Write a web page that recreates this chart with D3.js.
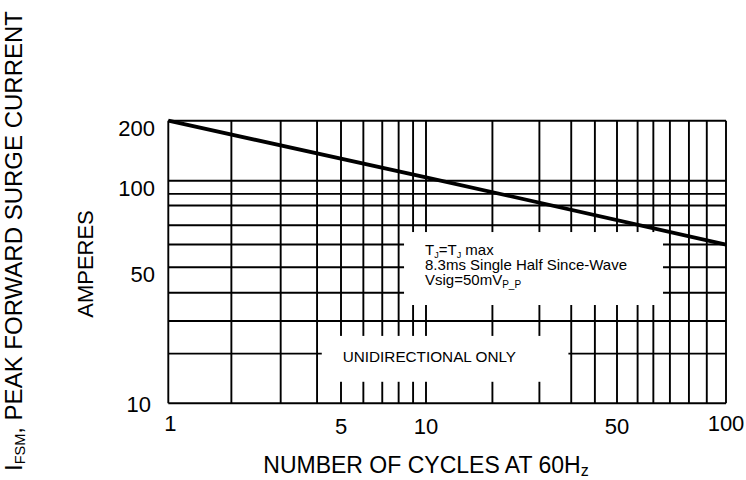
<!DOCTYPE html>
<html>
<head>
<meta charset="utf-8">
<script src="https://cdn.jsdelivr.net/npm/d3@7"></script>
<style>
  body { margin: 0; background: #fff; }
  text { font-family: "Liberation Sans", Arial, sans-serif; fill: #000; }
</style>
</head>
<body>
<div class="div_chart"></div>
<script>
// Surge current curve
const cycles = [1, 10, 100]
const amps = [200, 104, 60]

// tick labels
const xTicks = [1, 5, 10, 50, 100]
const yTicks = [10, 50, 100, 200]

// grid lines as drawn on the sheet (not a clean log grid)
const gridX = [1, 1.8, 2.85, 4, 5, 6, 7, 8, 9, 10, 17.5, 26, 34, 41.5, 50, 57, 63, 70, 79, 88.5, 100]
const gridY = [10, 18, 26.5, 37, 50, 60, 70, 82, 90, 100, 200]

// note boxes, in cycles / amperes
const noteBox = {x0: 8.36, x1: 67, y0: 32, y1: 66.3}
const uniBox = {x0: 4.18, x1: 33.2, y0: 12.9, y1: 22.2}

const width = 746, height = 480

const svg = d3.select(".div_chart")
  .append("svg")
    .attr("width", width)
    .attr("height", height)

// piecewise log scales, knots at the labelled ticks
const x = d3.scaleLog()
  .domain([1, 5, 10, 50, 100])
  .range([168.3, 341, 426, 617, 726])

const y = d3.scaleLog()
  .domain([10, 50, 100, 200])
  .range([403.3, 267.3, 180.7, 120.7])

const grid = svg.append("g").attr("class", "grid")

grid.selectAll("line.v")
  .data(gridX)
  .enter().append("line")
  .attr("class", "v")
  .attr("x1", d => x(d)).attr("x2", d => x(d))
  .attr("y1", y(200)).attr("y2", y(10))
  .style("stroke", "#000")
  .style("stroke-width", 1.9)

grid.selectAll("line.h")
  .data(gridY)
  .enter().append("line")
  .attr("class", "h")
  .attr("x1", x(1)).attr("x2", x(100))
  .attr("y1", d => y(d)).attr("y2", d => y(d))
  .style("stroke", "#000")
  .style("stroke-width", 1.9)

// white boxes cut the grid behind the notes
for (let b of [noteBox, uniBox]) {
  svg.append("rect")
    .attr("x", x(b.x0))
    .attr("y", y(b.y1))
    .attr("width", x(b.x1) - x(b.x0))
    .attr("height", y(b.y0) - y(b.y1))
    .style("fill", "#fff")
}

// the curve
const line = d3.line()
  .x(d => x(d[0]))
  .y(d => y(d[1]))

svg.append("path")
  .datum(d3.zip(cycles, amps))
  .attr("d", line)
  .style("fill", "none")
  .style("stroke", "#000")
  .style("stroke-width", 3.8)

// tick labels
svg.selectAll("text.xt")
  .data(xTicks)
  .enter().append("text")
  .attr("class", "xt")
  .attr("x", d => x(d) + (d == 1 ? 2 : 0))
  .attr("y", d => d == 1 || d == 100 ? 431 : 434)
  .attr("text-anchor", "middle")
  .style("font-size", "22px")
  .text(d => d)

svg.selectAll("text.yt")
  .data(yTicks)
  .enter().append("text")
  .attr("class", "yt")
  .attr("x", d => d == 10 ? 151 : 155)
  .attr("y", d => y(d) + (d == 10 ? 8.5 : 15))
  .attr("text-anchor", "end")
  .style("font-size", "22px")
  .text(d => d)

// note text
const nx = x(noteBox.x0) + 21, ny = y(noteBox.y1) + 23
const note = svg.append("text")
  .attr("x", nx).attr("y", ny)
  .style("font-size", "15px")
note.append("tspan").text("T")
note.append("tspan").attr("dy", 3).style("font-size", "9px").text("J")
note.append("tspan").attr("dy", -3).text("=T")
note.append("tspan").attr("dy", 3).style("font-size", "9px").text("J")
note.append("tspan").attr("dy", -3).text(" max")

svg.append("text")
  .attr("x", nx).attr("y", ny + 15)
  .style("font-size", "15px")
  .text("8.3ms Single Half Since-Wave")

const vs = svg.append("text")
  .attr("x", nx).attr("y", ny + 30)
  .style("font-size", "15px")
vs.append("tspan").text("Vsig=50mV")
vs.append("tspan").attr("dy", 3).style("font-size", "10px").text("P_P")

svg.append("text")
  .attr("x", 342.7)
  .attr("y", 362.3)
  .style("font-size", "15.3px")
  .text("UNIDIRECTIONAL ONLY")

// axis titles
const xt = svg.append("text")
  .attr("x", 263.3)
  .attr("y", 473.3)
  .style("font-size", "23px")
xt.append("tspan").text("NUMBER OF CYCLES AT 60H")
xt.append("tspan").attr("dy", 3).style("font-size", "16px").text("z")

svg.append("text")
  .attr("transform", "translate(93,264) rotate(-90)")
  .attr("text-anchor", "middle")
  .style("font-size", "22px")
  .text("AMPERES")

const yt = svg.append("text")
  .attr("transform", "translate(22,471) rotate(-90)")
  .style("font-size", "24px")
yt.append("tspan").text("I")
yt.append("tspan").attr("dy", 3).style("font-size", "14.5px").text("FSM")
yt.append("tspan").attr("dy", -3).text(", PEAK FORWARD SURGE CURRENT")
</script>
</body>
</html>
